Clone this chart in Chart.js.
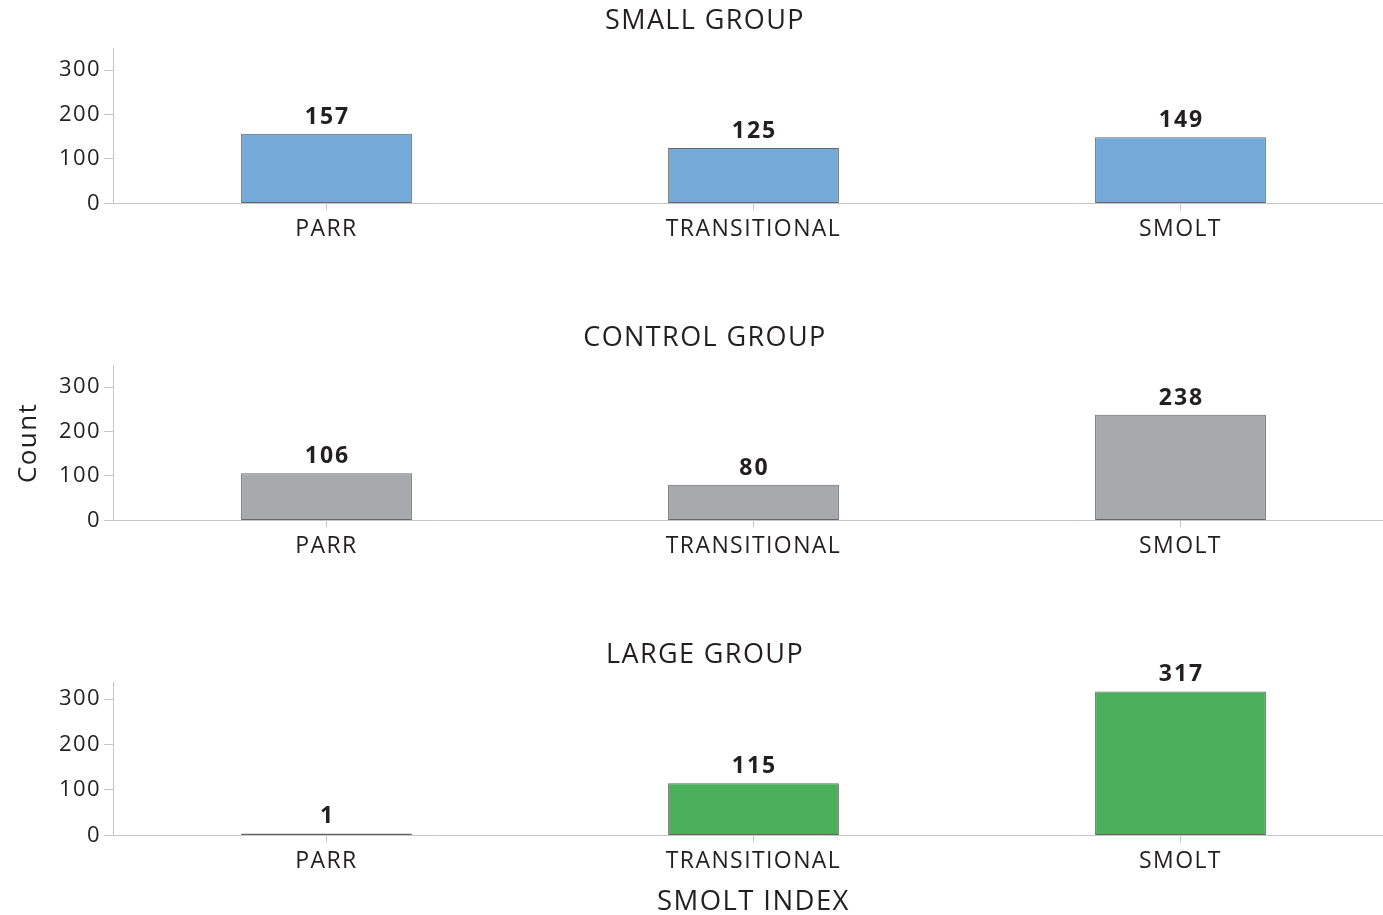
<!DOCTYPE html>
<html>
<head>
<meta charset="utf-8">
<script src="https://cdn.jsdelivr.net/npm/chart.js@4"></script>
<style>
  html, body { margin: 0; padding: 0; background: #fff; overflow: hidden; }
  .panel { position: absolute; left: 0; width: 1410px; }
</style>
</head>
<body>
<div class="panel" style="top:0px;height:270px"><canvas id="smallChart"></canvas></div>
<div class="panel" style="top:317px;height:270px"><canvas id="controlChart"></canvas></div>
<div class="panel" style="top:634px;height:285px"><canvas id="largeChart"></canvas></div>
<script>
const categories = ['PARR', 'TRANSITIONAL', 'SMOLT'];
const smallGroup = [157, 125, 149];
const controlGroup = [106, 80, 238];
const largeGroup = [1, 115, 317];
const yTicks = [0, 100, 200, 300];

const FONT = "'Open Sans', 'Noto Sans', sans-serif";
const TEXT = '#231f20';
const AXIS = '#c6c6c6';

// wider tracking for the axis and title text
const tracking = {
    id: 'tracking',
    beforeDraw(chart) {
        chart.ctx.letterSpacing = '1.4px';
    }
};

// writes the count above each bar
const barValues = {
    id: 'barValues',
    afterDatasetsDraw(chart) {
        const ctx = chart.ctx;
        const meta = chart.getDatasetMeta(0);
        ctx.save();
        ctx.letterSpacing = '2px';
        ctx.font = 'bold 23px ' + FONT;
        ctx.fillStyle = TEXT;
        ctx.textAlign = 'center';
        ctx.textBaseline = 'alphabetic';
        meta.data.forEach((bar, i) => {
            ctx.fillText(chart.data.datasets[0].data[i], bar.x + 1, bar.y - 10);
        });
        ctx.restore();
    }
};

const renderPanel = (id, title, values, color, yMax, opts) => {
    new Chart(id, {
        type: 'bar',
        data: {
            labels: categories,
            datasets: [{
                data: values,
                backgroundColor: color,
                borderColor: '#666666',
                borderWidth: 1,
                borderSkipped: false,
                minBarLength: 2,
                barPercentage: 0.4,
                categoryPercentage: 1
            }]
        },
        options: {
            responsive: true,
            maintainAspectRatio: false,
            animation: false,
            layout: { padding: { left: 16, right: 16, top: 0, bottom: opts.padBottom } },
            plugins: {
                legend: { display: false },
                tooltip: { enabled: false },
                title: {
                    display: true,
                    text: title,
                    color: TEXT,
                    font: { family: FONT, size: 27, weight: 500 },
                    padding: { top: 5, bottom: 11 }
                }
            },
            scales: {
                x: {
                    offset: true,
                    grid: { display: true, drawOnChartArea: false, offset: false, tickLength: 7, color: AXIS },
                    border: { color: AXIS, width: 1 },
                    ticks: { color: TEXT, padding: 5, font: { family: FONT, size: 23, weight: 500 }, maxRotation: 0 },
                    title: {
                        display: !!opts.xTitle,
                        text: opts.xTitle || '',
                        color: TEXT,
                        font: { family: FONT, size: 27.5, weight: 500 },
                        padding: { top: 6, bottom: 0 }
                    }
                },
                y: {
                    min: 0,
                    max: yMax,
                    afterBuildTicks: (scale) => { scale.ticks = yTicks.map(v => ({ value: v })); },
                    afterFit: (scale) => { scale.width = 97; },
                    grid: { display: true, drawOnChartArea: false, tickLength: 9, color: AXIS },
                    border: { color: AXIS, width: 1 },
                    ticks: { color: TEXT, padding: 3, font: { family: FONT, size: 22, weight: 500 } },
                    title: {
                        display: !!opts.yTitle,
                        text: opts.yTitle || '',
                        color: TEXT,
                        font: { family: FONT, size: 26, weight: 500 },
                        padding: { top: -3, bottom: 0 }
                    }
                }
            }
        },
        plugins: [tracking, barValues]
    });
};

renderPanel('smallChart', 'SMALL GROUP', smallGroup, '#74a9d8', 349, { padBottom: 22 });
renderPanel('controlChart', 'CONTROL GROUP', controlGroup, '#a8a9ac', 349, { padBottom: 22, yTitle: 'Count' });
renderPanel('largeChart', 'LARGE GROUP', largeGroup, '#4aaf5a', 337, { padBottom: 0, xTitle: 'SMOLT INDEX' });
</script>
</body>
</html>
